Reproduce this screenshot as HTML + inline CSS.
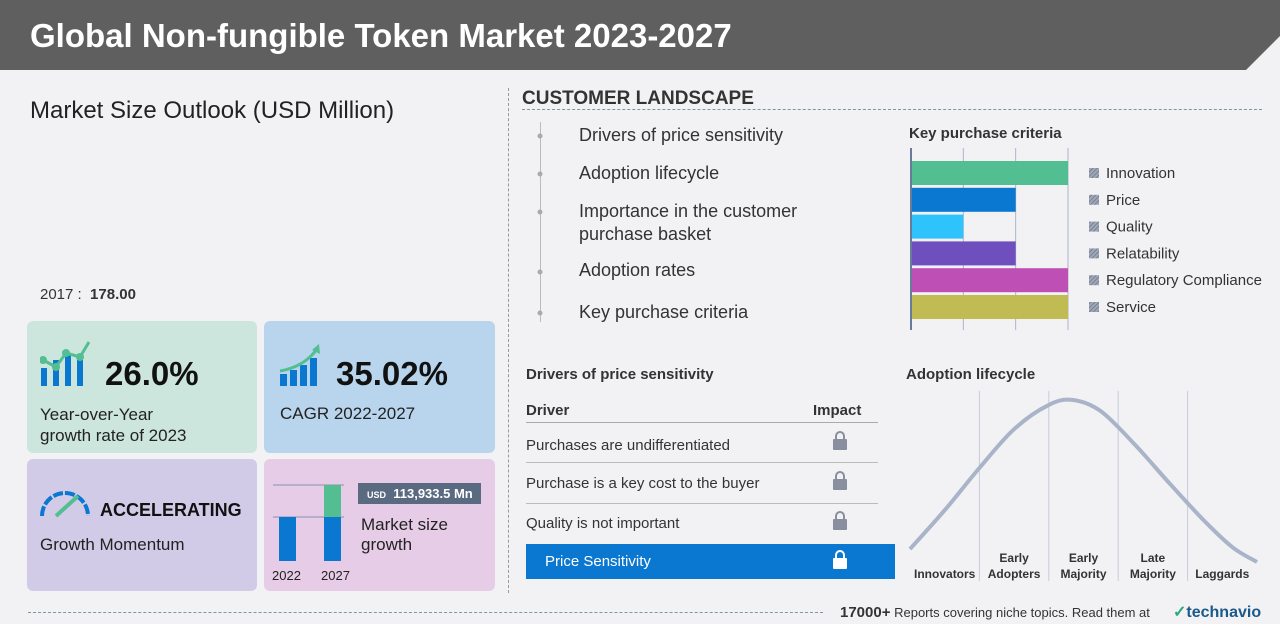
<!DOCTYPE html>
<html><head><meta charset="utf-8"><style>
*{margin:0;padding:0;box-sizing:border-box}
body{width:1280px;height:624px;background:#f2f2f5;font-family:"Liberation Sans",sans-serif;position:relative;overflow:hidden;color:#222}
.a{position:absolute}
.card{position:absolute;border-radius:6px}
</style></head><body>
<div class="a" style="left:0;top:0;width:1280px;height:70px;background:#5f5f5f"></div>
<svg class="a" style="left:1240px;top:36px" width="40" height="34"><polygon points="40,0 40,34 6,34" fill="#f2f2f5"/></svg>
<div class="a" style="left:30px;top:17px;font-size:33px;font-weight:bold;color:#fff">Global Non-fungible Token Market 2023-2027</div>

<div class="a" style="left:30px;top:97px;font-size:24px;color:#222">Market Size Outlook (USD Million)</div>
<div class="a" style="left:40px;top:286px;font-size:15px;color:#333">2017 : &nbsp;<b>178.00</b></div>

<div class="card" style="left:27px;top:321px;width:230px;height:132px;background:#cce6dd"></div>
<svg class="a" style="left:40px;top:338px" width="52" height="50">
<rect x="1" y="30" width="6" height="18" fill="#0a77d0"/><rect x="13" y="22" width="6" height="26" fill="#0a77d0"/><rect x="25" y="17" width="6" height="31" fill="#0a77d0"/><rect x="37" y="22" width="6" height="26" fill="#0a77d0"/>
<polyline points="3,22 16,29 26,15 40,19 49,4" fill="none" stroke="#52be92" stroke-width="3"/><circle cx="3" cy="22" r="4" fill="#52be92"/><circle cx="16" cy="29" r="4" fill="#52be92"/><circle cx="26" cy="15" r="4" fill="#52be92"/><circle cx="40" cy="19" r="4" fill="#52be92"/></svg>
<div class="a" style="left:105px;top:355px;font-size:33px;font-weight:bold;color:#111">26.0%</div>
<div class="a" style="left:40px;top:404px;font-size:17px;line-height:21px">Year-over-Year<br>growth rate of 2023</div>

<div class="card" style="left:264px;top:321px;width:231px;height:132px;background:#b8d5ed"></div>
<svg class="a" style="left:279px;top:343px" width="42" height="44">
<rect x="1" y="31" width="7" height="12" fill="#0a77d0"/><rect x="11" y="27" width="7" height="16" fill="#0a77d0"/><rect x="21" y="22" width="7" height="21" fill="#0a77d0"/><rect x="31" y="15" width="7" height="28" fill="#0a77d0"/>
<path d="M1,28 Q25,24 38,6" fill="none" stroke="#52be92" stroke-width="3"/><polygon points="40,1 41,11 33,7" fill="#52be92"/></svg>
<div class="a" style="left:336px;top:355px;font-size:33px;font-weight:bold;color:#111">35.02%</div>
<div class="a" style="left:280px;top:404px;font-size:17px">CAGR 2022-2027</div>

<div class="card" style="left:27px;top:459px;width:230px;height:132px;background:#d2cbe8"></div>
<svg class="a" style="left:39px;top:488px" width="52" height="32">
<path d="M3,28 A23,23 0 0 1 49,28" fill="none" stroke="#0a77d0" stroke-width="4" stroke-dasharray="10 2"/><line x1="17" y1="28" x2="39" y2="8" stroke="#52be92" stroke-width="4"/></svg>
<div class="a" style="left:100px;top:500px;font-size:18px;font-weight:bold;color:#111">ACCELERATING</div>
<div class="a" style="left:40px;top:535px;font-size:17px">Growth Momentum</div>

<div class="card" style="left:264px;top:459px;width:231px;height:132px;background:#e6cce6"></div>
<svg class="a" style="left:264px;top:459px" width="231" height="132">
<line x1="9" y1="26" x2="80" y2="26" stroke="#8a8fb0"/><line x1="9" y1="58" x2="80" y2="58" stroke="#8a8fb0"/>
<rect x="15" y="58" width="17" height="44" fill="#0a77d0"/><rect x="60" y="58" width="17" height="44" fill="#0a77d0"/><rect x="60" y="26" width="17" height="32" fill="#52be92"/>
<text x="8" y="121" font-size="13" fill="#222" font-family="Liberation Sans">2022</text><text x="57" y="121" font-size="13" fill="#222" font-family="Liberation Sans">2027</text></svg>
<div class="a" style="left:358px;top:483px;width:123px;height:21px;background:#5a6a80;color:#fff;font-size:13px;font-weight:bold;padding:3px 0 0 9px"><span style="font-size:9px">USD</span>&nbsp; 113,933.5 Mn</div>
<div class="a" style="left:361px;top:515px;font-size:17px;line-height:20px">Market size<br>growth</div>

<div class="a" style="left:508px;top:88px;height:505px;border-left:1px dashed #999"></div>

<div class="a" style="left:522px;top:88px;font-size:19px;font-weight:bold;color:#333">CUSTOMER LANDSCAPE</div>
<div class="a" style="left:522px;top:109px;width:740px;border-top:1px dashed #7a9a9a"></div>
<div class="a" style="left:540px;top:122px;height:200px;border-left:1px solid #bbb"></div>
<div class="a" style="left:579px;top:0;font-size:18px;color:#333">
<div class="a" style="top:125px;white-space:nowrap">Drivers of price sensitivity</div>
<div class="a" style="top:163px;white-space:nowrap">Adoption lifecycle</div>
<div class="a" style="top:200px;white-space:nowrap;line-height:23px">Importance in the customer<br>purchase basket</div>
<div class="a" style="top:260px;white-space:nowrap">Adoption rates</div>
<div class="a" style="top:302px;white-space:nowrap">Key purchase criteria</div></div>
<svg class="a" style="left:536px;top:120px" width="10" height="200"><g fill="#aaa"><circle cx="4" cy="16" r="2.5"/><circle cx="4" cy="54" r="2.5"/><circle cx="4" cy="92" r="2.5"/><circle cx="4" cy="152" r="2.5"/><circle cx="4" cy="193" r="2.5"/></g></svg>

<div class="a" style="left:909px;top:125px;font-size:15px;font-weight:bold;color:#333">Key purchase criteria</div>
<svg class="a" id="kpc" style="left:900px;top:140px" width="380" height="200">
<defs><pattern id="hatch" width="3" height="3" patternUnits="userSpaceOnUse" patternTransform="rotate(45)"><rect width="3" height="3" fill="#a0a8b8"/><line x1="0" y1="0" x2="0" y2="3" stroke="#6a7488" stroke-width="1.5"/></pattern></defs></svg>

<div class="a" style="left:526px;top:366px;font-size:15px;font-weight:bold;color:#333">Drivers of price sensitivity</div>
<div class="a" style="left:526px;top:402px;font-size:15px;font-weight:bold;color:#333">Driver</div>
<div class="a" style="left:813px;top:402px;font-size:15px;font-weight:bold;color:#333">Impact</div>
<div class="a" style="left:526px;top:422px;width:352px;border-top:1px solid #aaa"></div>
<div class="a" style="left:526px;top:437px;font-size:15px;color:#333">Purchases are undifferentiated</div>
<div class="a" style="left:526px;top:462px;width:352px;border-top:1px solid #bbb"></div>
<div class="a" style="left:526px;top:475px;font-size:15px;color:#333">Purchase is a key cost to the buyer</div>
<div class="a" style="left:526px;top:503px;width:352px;border-top:1px solid #bbb"></div>
<div class="a" style="left:526px;top:515px;font-size:15px;color:#333">Quality is not important</div>
<div class="a" style="left:526px;top:544px;width:369px;height:35px;background:#0a77d0;color:#fff;font-size:15px;padding:9px 0 0 19px">Price Sensitivity</div>
<svg class="a" style="left:832px;top:431px" width="18" height="140">
<g fill="#8a8fa0"><path d="M4,8 V5 a4,4 0 0 1 8,0 V8" stroke="#8a8fa0" stroke-width="2" fill="none"/><rect x="1" y="8" width="14" height="11" rx="1"/>
<path d="M4,48 V45 a4,4 0 0 1 8,0 V48" stroke="#8a8fa0" stroke-width="2" fill="none"/><rect x="1" y="48" width="14" height="11" rx="1"/>
<path d="M4,88 V85 a4,4 0 0 1 8,0 V88" stroke="#8a8fa0" stroke-width="2" fill="none"/><rect x="1" y="88" width="14" height="11" rx="1"/></g>
<path d="M4,127 V124 a4,4 0 0 1 8,0 V127" stroke="#fff" stroke-width="2" fill="none"/><rect x="1" y="127" width="14" height="11" rx="1" fill="#fff"/></svg>

<div class="a" style="left:906px;top:366px;font-size:15px;font-weight:bold;color:#333">Adoption lifecycle</div>
<svg class="a" id="adopt" style="left:900px;top:385px" width="370" height="200"></svg>

<div class="a" style="left:28px;top:612px;width:795px;border-top:1px dashed #7a9aa0"></div>
<div class="a" style="left:840px;top:604px;font-size:13px;color:#333"><b style="font-size:15px">17000+</b> Reports covering niche topics. Read them at</div>
<div class="a" style="left:1173px;top:602px;font-size:16px;font-weight:bold;color:#1a5a8a"><span style="color:#2aa87a">✓</span>technavio</div>

<script>
const kpcCategories=["Innovation","Price","Quality","Relatability","Regulatory Compliance","Service"];
const kpcValues=[3,2,1,2,3,3];
const kpcColors=["#52be92","#0a77d0","#2fc3fc","#6e4fbd","#bd4fb5","#c0bb52"];
const stages=["Innovators","Early\nAdopters","Early\nMajority","Late\nMajority","Laggards"];
const curveX=[0,0.1,0.2,0.3,0.4,0.47,0.55,0.65,0.75,0.85,0.93,1];
const curveY=[0.08,0.32,0.58,0.82,0.97,1.0,0.93,0.72,0.48,0.25,0.09,0.0];
const NS="http://www.w3.org/2000/svg";
const k=document.getElementById('kpc');
function mk(p,t,a){const e=document.createElementNS(NS,t);for(const n in a)e.setAttribute(n,a[n]);p.appendChild(e);return e;}
const x0=11,x1=168,xMax=3;
const xs=v=>x0+(x1-x0)*v/xMax;
for(let i=1;i<=3;i++){const g=mk(k,'line',{x1:xs(i),x2:xs(i),y1:8,y2:190,stroke:'#aab4c8'});}
kpcValues.forEach((v,i)=>{
 const y=21+i*26.8;
 const r=mk(k,'rect',{x:x0,y:y,width:xs(v)-x0,height:24,fill:kpcColors[i]});
 
 
 const s=mk(k,'rect',{x:189,y:y+7,width:10,height:10,fill:'url(#hatch)'});
 
 
 const t=mk(k,'text',{x:206,y:y+17,'font-size':15,fill:'#333','font-family':'Liberation Sans'});t.textContent=kpcCategories[i];
 
 
});
const ax=mk(k,'line',{x1:x0,x2:x0,y1:8,y2:190,stroke:'#6a7a9a','stroke-width':2});



const a=document.getElementById('adopt');
const W0=10,W1=357,Yb=177,Yt=15;
const ax2=v=>W0+(W1-W0)*v, ay=v=>Yb-(Yb-Yt)*v;
for(let i=1;i<stages.length;i++){const l=mk(a,'line',{x1:W0+i*69.4,x2:W0+i*69.4,y1:6,y2:196,stroke:'#c8ccd8'});}
const P=curveX.map((x,i)=>[ax2(x),ay(curveY[i])]);
let d='M'+P[0][0]+','+P[0][1];
for(let i=0;i<P.length-1;i++){const p0=P[Math.max(0,i-1)],p1=P[i],p2=P[i+1],p3=P[Math.min(P.length-1,i+2)];
 d+=' C'+(p1[0]+(p2[0]-p0[0])/6).toFixed(1)+','+(p1[1]+(p2[1]-p0[1])/6).toFixed(1)+' '+(p2[0]-(p3[0]-p1[0])/6).toFixed(1)+','+(p2[1]-(p3[1]-p1[1])/6).toFixed(1)+' '+p2[0].toFixed(1)+','+p2[1].toFixed(1);}
const p=mk(a,'path',{d:d,fill:'none',stroke:'#a9b4c8','stroke-width':4,'stroke-linejoin':'round'});


stages.forEach((s,i)=>{
 const lines=s.split('\n');const cx=W0+i*69.4+34.7;
 lines.forEach((ln,j)=>{const t=mk(a,'text',{x:cx,y:193-(lines.length-1-j)*16,'text-anchor':'middle','font-size':12,'font-weight':'bold',fill:'#333','font-family':'Liberation Sans'});t.textContent=ln;
 
 });
});
</script>
</body></html>
